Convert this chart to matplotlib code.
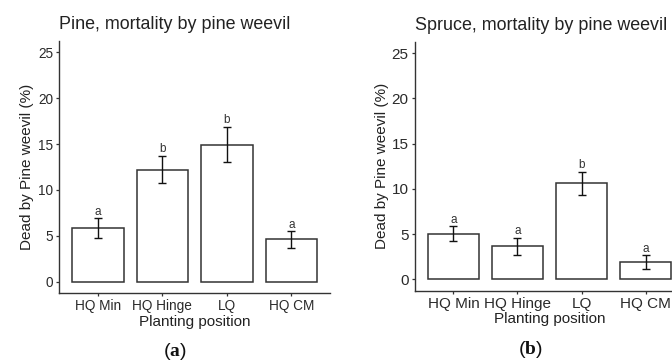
import matplotlib
matplotlib.use("Agg")
import matplotlib.pyplot as plt
import numpy as np

plt.rcParams['font.family'] = ['Liberation Sans', 'DejaVu Sans']
plt.rcParams['mathtext.fontset'] = 'custom'
plt.rcParams['mathtext.rm'] = 'Liberation Serif'
plt.rcParams['mathtext.bf'] = 'Liberation Serif:bold'

# --------------------------------------
# DATA
# --------------------------------------
positions = ["HQ Min", "HQ Hinge", "LQ", "HQ CM"]

pine_mean = [5.85, 12.2, 14.95, 4.6]
pine_err = [1.05, 1.5, 1.93, 0.9]
pine_letters = ["a", "b", "b", "a"]

spruce_mean = [5.05, 3.66, 10.6, 1.9]
spruce_err = [0.83, 0.95, 1.25, 0.77]
spruce_letters = ["a", "a", "b", "a"]

titles = ["Pine, mortality by pine weevil", "Spruce, mortality by pine weevil"]
panel_tags = [r"($\mathbf{a}$)", r"($\mathbf{b}$)"]

LINE = "#333333"
TEXT = "#222222"

W, H = 672, 363
fig = plt.figure(figsize=(W / 100, H / 100), dpi=100)


def px_axes(left, top, right, bottom):
    return fig.add_axes([left / W, 1 - bottom / H, (right - left) / W, (bottom - top) / H])


ax_pine = px_axes(59.3, 41.0, 330.0, 293.0)
ax_spruce = px_axes(415.0, 41.7, 684.0, 290.7)

# the two panels in the source were scaled a bit differently -> own tick sizes
panels = [
    (ax_pine, pine_mean, pine_err, pine_letters, titles[0], 9.8, 3.0, 1.5),
    (ax_spruce, spruce_mean, spruce_err, spruce_letters, titles[1], 11.0, 1.8, 0.8),
]

for ax, means, errs, letters, title, tick_fs, ylpad, xlpad in panels:
    x = np.arange(len(positions))
    ax.bar(x, means, width=0.8, color="white", edgecolor=LINE, linewidth=1.1, zorder=2)
    ax.errorbar(x, means, yerr=errs, fmt="none", ecolor="#111111",
                elinewidth=1.0, capsize=2.9, capthick=1.0, zorder=3)
    for xi, m, e, lab in zip(x, means, errs, letters):
        ax.annotate(lab, (xi, m + e), xytext=(0, 2.6), textcoords="offset points",
                    ha="center", va="baseline", fontsize=8.5, color="#333333")

    ax.set_xlim(-0.6, len(positions) - 0.4)
    ax.set_ylim(-1.25, 26.25)
    ax.set_yticks([0, 5, 10, 15, 20, 25])
    ax.set_xticks(x)
    ax.set_xticklabels(positions)

    for side in ["top", "right"]:
        ax.spines[side].set_visible(False)
    for side in ["left", "bottom"]:
        ax.spines[side].set_color(LINE)
        ax.spines[side].set_linewidth(1.0)

    ax.tick_params(axis="both", length=2.5, width=0.9, color=LINE,
                   labelsize=tick_fs, labelcolor="#2a2a2a", pad=2.0)
    ax.set_xlabel("Planting position", fontsize=11, color=TEXT, labelpad=xlpad)
    ax.set_ylabel("Dead by Pine weevil (%)", fontsize=11, color=TEXT, labelpad=ylpad)
    ax.set_title(title, loc="left", fontsize=12.9, color=TEXT, pad=8.5)

fig.text(175 / W, 1 - 352 / H, panel_tags[0], ha="center", va="center", fontsize=14, color="#111111")
fig.text(530 / W, 1 - 349 / H, panel_tags[1], ha="center", va="center", fontsize=14, color="#111111")

fig.savefig("out.png", dpi=100)
